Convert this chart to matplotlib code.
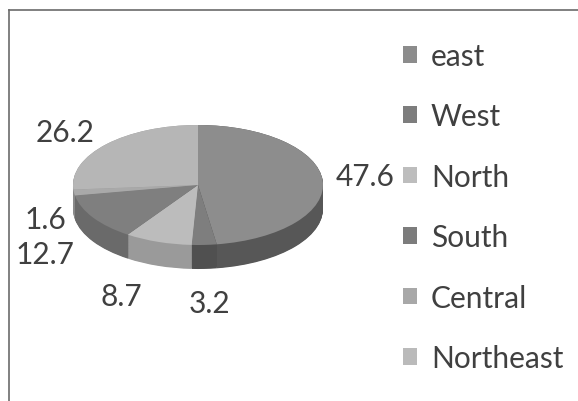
import matplotlib
matplotlib.use("Agg")
import matplotlib.pyplot as plt
import numpy as np
from matplotlib.patches import Patch
from matplotlib.lines import Line2D

categories = ["east", "West", "North", "South", "Central", "Northeast"]
values = [47.6, 3.2, 8.7, 12.7, 1.6, 26.2]
top_colors = ["#8d8d8d", "#7e7e7e", "#bcbcbc", "#7f7f7f", "#a9a9a9", "#b6b6b6"]
side_colors = ["#575757", "#505050", "#9a9a9a", "#6a6a6a", "#8a8a8a", "#9a9a9a"]
legend_colors = ["#8c8c8c", "#7d7d7d", "#bdbdbd", "#7c7c7c", "#a8a8a8", "#bababa"]

plt.rcParams['font.family'] = ['Lato', 'DejaVu Sans']
FS = 21.5

W, H = 578, 402
fig = plt.figure(figsize=(W / 100, H / 100), dpi=100)
ax = fig.add_axes([0, 0, 1, 1])

RX, RY = 125.0, 60.0   # px per data unit horizontally / vertically
cx, cy = 198 / RX, (H - 186) / RY
depth = 24 / RY

# side extrusion
n = 40
for i in range(n + 1):
    off = depth * (1 - i / n)
    ax.pie(values, colors=side_colors, startangle=90, counterclock=False,
           center=(cx, cy - off), radius=1, frame=True,
           wedgeprops=dict(linewidth=0, antialiased=True))
# top surface
ax.pie(values, colors=top_colors, startangle=90, counterclock=False,
       center=(cx, cy), radius=1, frame=True,
       wedgeprops=dict(linewidth=0))

ax.set_aspect('auto')
ax.set_xlim(0, W / RX)
ax.set_ylim(0, H / RY)
ax.axis('off')

# data labels (positions derived from slice mid-angles, small pixel nudges)
total = sum(values)
cum = np.cumsum([0] + values[:-1])
nudges_px = [(1, -3), (5, 12), (-12, 9), (-8, 0), (5, 0), (-3, 3)]
for k, v in enumerate(values):
    mid = (cum[k] + v / 2) / total * 2 * np.pi  # clockwise from top
    dx, dy = np.sin(mid), np.cos(mid)
    r = 1.1
    lx = cx + r * dx
    ly = cy + r * dy * 1.25
    if dy < 0:
        ly -= depth
    ha = 'left' if dx > 0.3 else ('right' if dx < -0.3 else 'center')
    ax.text(lx + nudges_px[k][0] / RX, ly - nudges_px[k][1] / RY, f"{v:g}",
            ha=ha, va='center', fontsize=FS, color='#404040')

handles = [Patch(facecolor=c, edgecolor='none') for c in legend_colors]
leg = fig.legend(handles, categories, loc='upper left', bbox_to_anchor=(403 / W, 1 - 43 / H),
                 frameon=False, fontsize=FS, labelspacing=1.085, handlelength=0.48,
                 handleheight=0.48, handletextpad=0.45, borderpad=0, borderaxespad=0)
for t in leg.get_texts():
    t.set_color('#404040')

fig.add_artist(Line2D([9 / W, 1], [1 - 11 / H, 1 - 11 / H], transform=fig.transFigure,
                      color='#6b6b6b', lw=1.2))
fig.add_artist(Line2D([9 / W, 9 / W], [1 - 11 / H, 0], transform=fig.transFigure,
                      color='#6b6b6b', lw=1.2))

fig.savefig("out.png", dpi=100)
